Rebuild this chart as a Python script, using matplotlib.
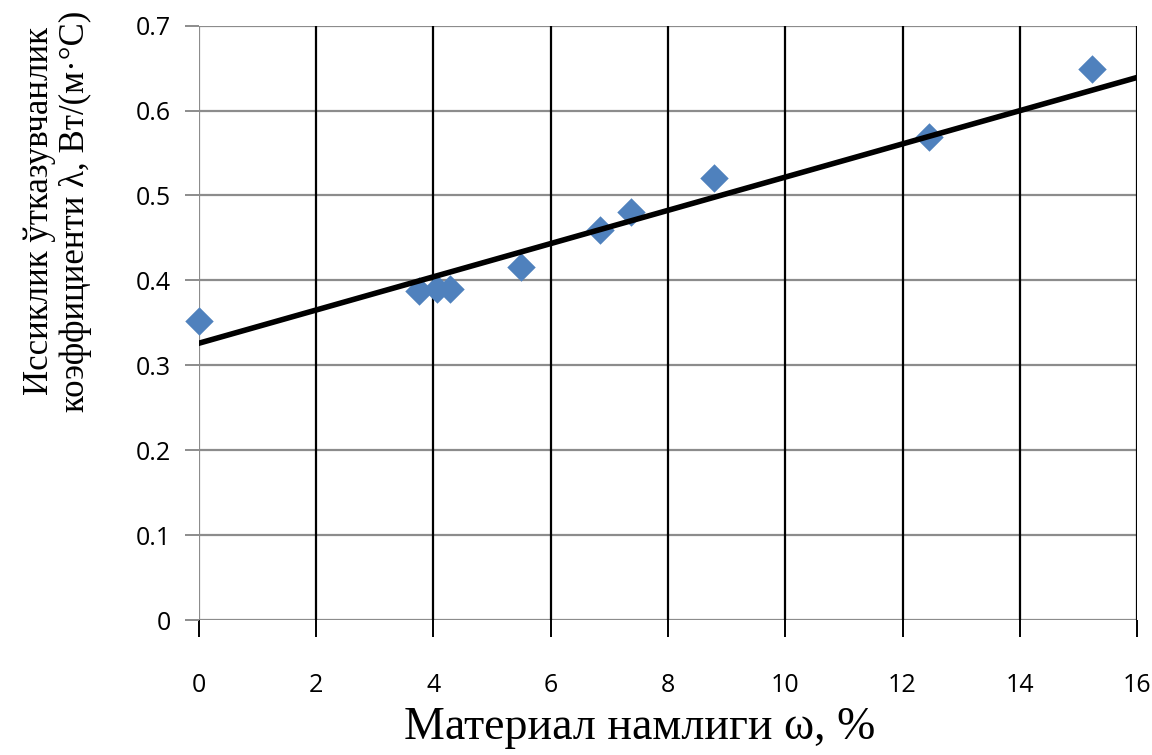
import matplotlib.pyplot as plt
import numpy as np

# moisture content, % and thermal conductivity, W/(m*C)
moisture = [0.0, 3.75, 4.06, 4.28, 5.49, 6.84, 7.37, 8.79, 12.46, 15.24]
conductivity = [0.352, 0.387, 0.390, 0.390, 0.416, 0.459, 0.480, 0.520, 0.569, 0.649]

# linear trend line end points
trend_x = [0, 16]
trend_y = [0.326, 0.639]

x_ticks = list(range(0, 17, 2))
y_ticks = [0, 0.1, 0.2, 0.3, 0.4, 0.5, 0.6, 0.7]

tick_font = ["Open Sans", "DejaVu Sans"]
label_font = ["Liberation Serif", "DejaVu Serif"]

fig = plt.figure(figsize=(11.52, 7.55), dpi=100)
ax = fig.add_axes([0.1727, 0.1788, 0.8143, 0.7872])

ax.set_xlim(0, 16)
ax.set_ylim(0, 0.7)
ax.set_xticks(x_ticks)
ax.set_yticks(y_ticks)
ax.set_xticklabels([str(t) for t in x_ticks], fontsize=18, family=tick_font)
ax.set_yticklabels(["0" if t == 0 else f"{t:.1f}" for t in y_ticks], fontsize=18, family=tick_font)

# grid: grey horizontal, black vertical
for yv in y_ticks:
    ax.axhline(yv, color="#8c8c8c", lw=1.6, zorder=1)
for xv in x_ticks[1:]:
    ax.axvline(xv, color="black", lw=1.6, zorder=1)
ax.axvline(0, color="#8c8c8c", lw=1.6, zorder=1)

for s in ax.spines.values():
    s.set_visible(False)
ax.tick_params(axis="x", length=12, width=1.4, color="black", pad=26)
ax.tick_params(axis="y", length=10, width=1.4, color="#8c8c8c", pad=10)

ax.scatter(moisture, conductivity, marker="D", s=210, color="#4F81BD", zorder=3, lw=0, clip_on=False)
ax.plot(trend_x, trend_y, color="black", lw=4, zorder=4)

ax.set_xlabel("Материал намлиги ω, %", fontsize=33, family=label_font, labelpad=8)
ax.xaxis.set_label_coords(0.47, -0.145)
fig.text(0.05, 0.72, "Иссиклик ўтказувчанлик\nкоэффициенти λ, Вт/(м·°С)",
         rotation=90, ha="center", va="center", multialignment="center",
         fontsize=25, family=label_font, linespacing=1.1)

fig.savefig("out.png", dpi=100)
